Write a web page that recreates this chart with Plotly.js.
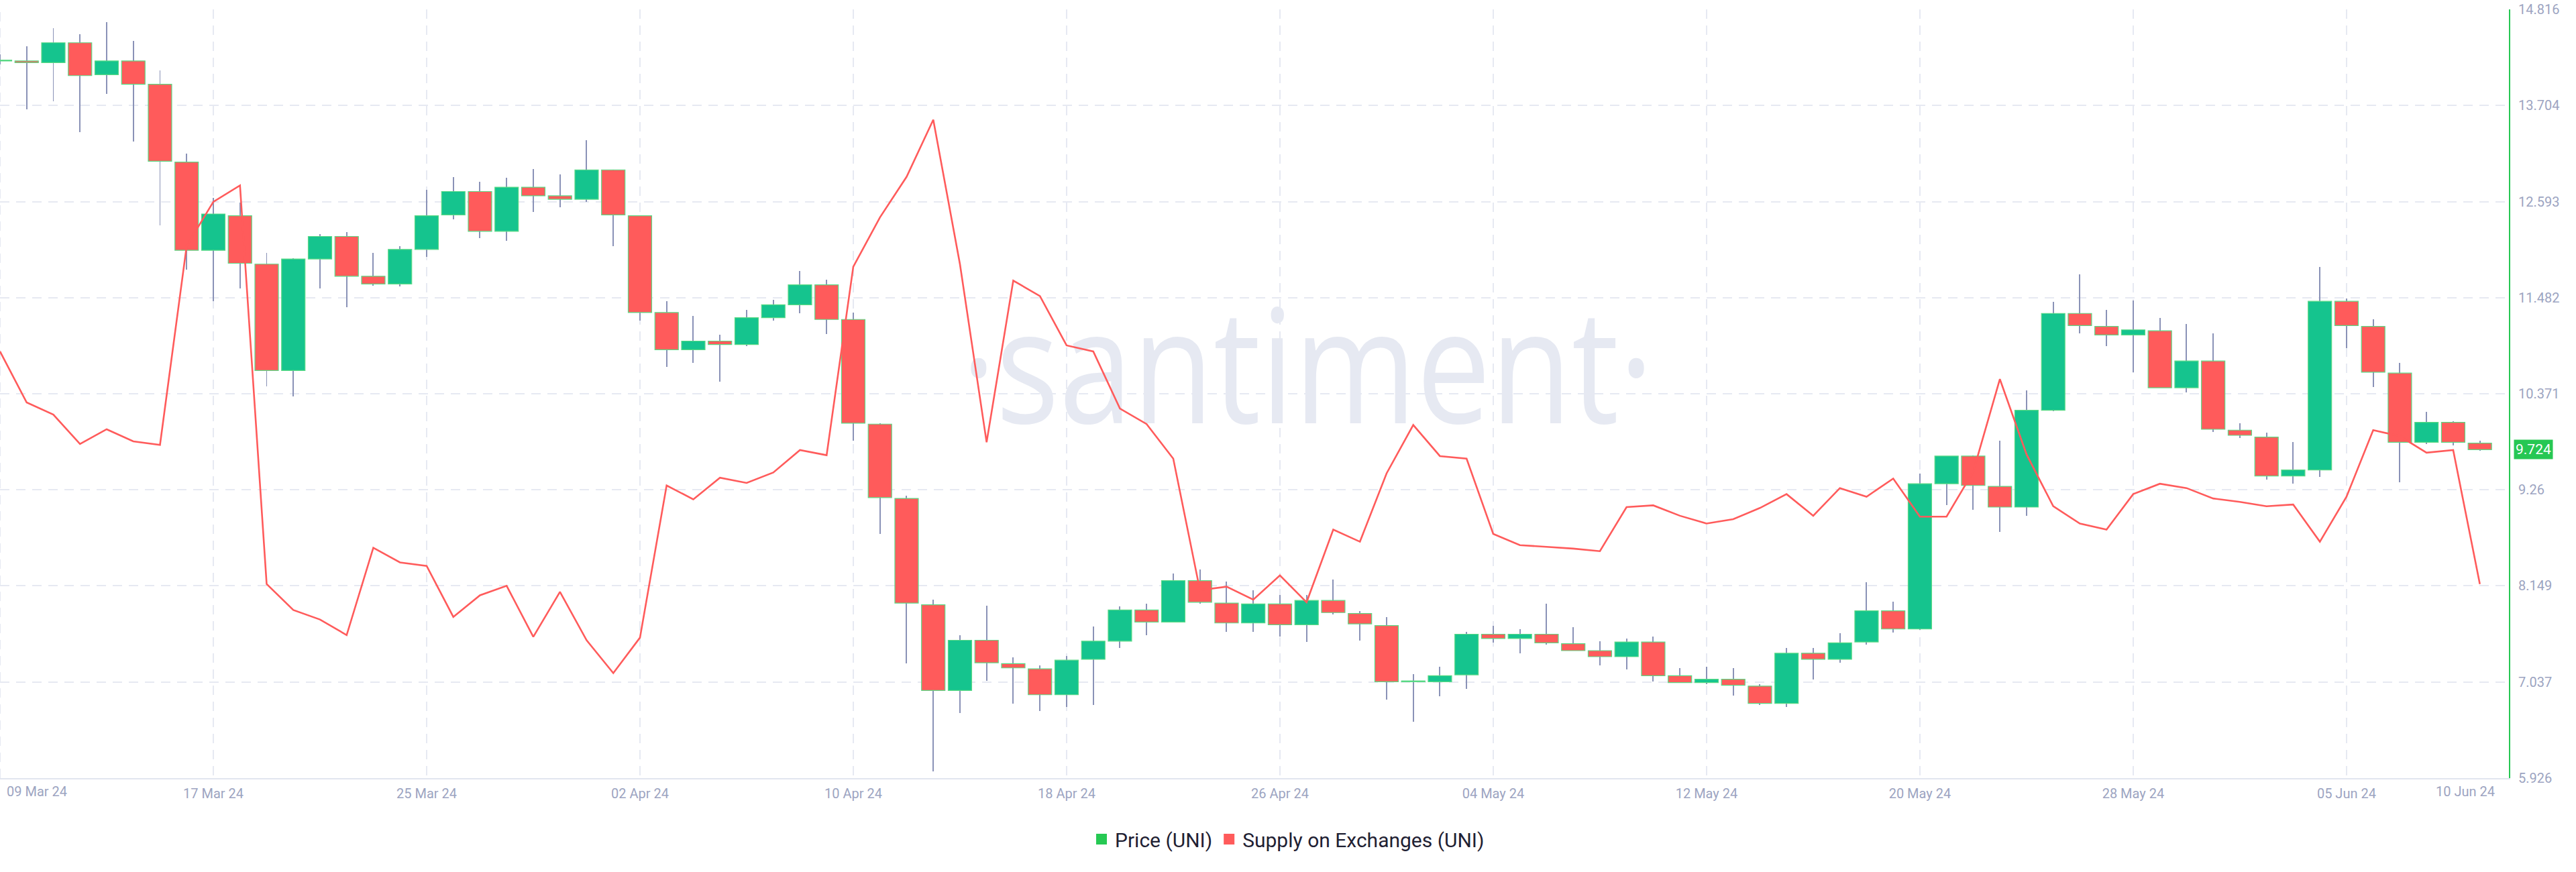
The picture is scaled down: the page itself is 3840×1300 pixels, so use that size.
<!DOCTYPE html>
<html>
<head>
<meta charset="utf-8">
<script src="https://cdn.plot.ly/plotly-3.0.1.min.js"></script>
<style>
  html, body { margin: 0; padding: 0; background: #ffffff; overflow: hidden; }
  #wrap { position: relative; width: 3840px; height: 1300px; }
  #wm { position: absolute; left: 1433px; top: 422px; font-family: "Open Sans", sans-serif; font-size: 236px;
        line-height: 236px; color: #e6e9f2; white-space: nowrap; transform: scaleX(0.835); transform-origin: left top; z-index: 0; }
  #chart { position: absolute; left: 0; top: 0; width: 3840px; height: 1300px; z-index: 1; }
</style>
</head>
<body>
<div id="wrap">
  <div id="wm">·santiment·</div>
  <div id="chart"></div>
</div>
<script>
// ---- Data (daily, 09 Mar 2024 .. 10 Jun 2024) ----
const startDate = "2024-03-09";
const priceOpen = [14.23,14.22,14.20,14.43,14.06,14.22,13.95,13.05,12.03,12.43,11.87,10.64,11.93,12.19,11.73,11.64,12.04,12.44,12.71,12.25,12.76,12.66,12.62,12.96,12.43,11.31,10.88,10.98,10.94,11.25,11.40,11.63,11.23,10.02,9.16,7.93,6.94,7.52,7.25,7.19,6.89,7.30,7.51,7.87,7.73,8.21,7.95,7.72,7.94,7.70,7.98,7.83,7.69,7.04,7.04,7.12,7.59,7.54,7.59,7.48,7.40,7.33,7.50,7.11,7.03,7.07,6.99,6.79,7.37,7.30,7.50,7.86,7.65,9.33,9.65,9.30,9.06,10.18,11.30,11.15,11.05,11.10,10.44,10.75,9.95,9.87,9.42,9.49,11.44,11.15,10.61,9.81,10.04,9.80];
const priceHigh = [14.30,14.39,14.60,14.53,14.67,14.45,14.11,13.15,12.64,12.58,12.00,11.94,12.22,12.24,12.00,12.08,12.73,12.88,12.82,12.87,12.97,12.91,13.30,12.96,12.43,11.44,11.27,11.05,11.34,11.46,11.79,11.69,11.31,10.03,9.19,7.99,7.58,7.92,7.32,7.23,7.34,7.68,7.91,7.94,8.29,8.34,8.20,8.10,8.04,8.04,8.22,7.86,7.79,7.13,7.21,7.62,7.69,7.65,7.94,7.67,7.51,7.54,7.56,7.20,7.21,7.20,7.01,7.43,7.43,7.60,8.19,7.97,9.45,9.65,9.66,9.83,10.41,11.43,11.75,11.34,11.45,11.25,11.18,11.07,10.03,9.92,9.81,11.84,11.47,11.23,10.73,10.16,10.05,9.83];
const priceLow = [14.18,13.66,13.75,13.40,13.84,13.29,12.32,11.81,11.44,11.59,10.46,10.34,11.59,11.37,11.62,11.61,11.95,12.39,12.17,12.14,12.47,12.53,12.59,12.08,11.22,10.68,10.73,10.51,10.92,11.22,11.30,11.06,9.83,8.75,7.25,6.00,6.68,7.05,6.79,6.70,6.75,6.77,7.43,7.58,7.73,7.94,7.62,7.62,7.56,7.50,7.82,7.52,6.83,6.58,6.87,6.96,7.49,7.37,7.47,7.40,7.23,7.18,7.04,7.03,7.01,6.88,6.77,6.75,7.07,7.26,7.47,7.61,7.64,9.08,9.03,8.77,8.96,10.17,11.07,10.92,10.62,10.44,10.39,9.93,9.86,9.38,9.33,9.41,10.90,10.45,9.35,9.79,9.77,9.71];
const priceClose = [14.22,14.20,14.43,14.05,14.22,13.95,13.06,12.03,12.45,11.88,10.64,11.93,12.19,11.73,11.64,12.04,12.43,12.71,12.25,12.76,12.66,12.62,12.96,12.44,11.31,10.88,10.98,10.94,11.25,11.40,11.63,11.23,10.03,9.17,7.95,6.94,7.52,7.26,7.20,6.89,7.29,7.51,7.87,7.73,8.21,7.96,7.72,7.94,7.70,7.98,7.84,7.71,7.04,7.05,7.11,7.59,7.54,7.59,7.49,7.40,7.33,7.50,7.11,7.03,7.07,7.00,6.79,7.37,7.30,7.49,7.86,7.65,9.33,9.65,9.31,9.06,10.18,11.30,11.16,11.05,11.11,10.44,10.75,9.96,9.89,9.42,9.49,11.44,11.16,10.62,9.81,10.04,9.81,9.724];
// Supply on Exchanges (UNI): drawn on its own hidden axis; values read as chart-relative levels
const supplyOnExchanges = [10.86,10.27,10.13,9.79,9.96,9.82,9.78,12.08,12.59,12.78,8.17,7.87,7.76,7.58,8.59,8.42,8.38,7.79,8.04,8.15,7.56,8.08,7.52,7.14,7.55,9.31,9.15,9.40,9.34,9.46,9.72,9.66,11.84,12.41,12.88,13.54,11.87,9.81,11.68,11.50,10.93,10.86,10.20,10.02,9.62,8.10,8.14,7.99,8.27,7.96,8.80,8.66,9.45,10.01,9.65,9.62,8.75,8.62,8.60,8.58,8.55,9.06,9.08,8.96,8.87,8.92,9.05,9.21,8.96,9.28,9.18,9.39,8.95,8.95,9.47,10.54,9.67,9.07,8.87,8.80,9.21,9.33,9.28,9.16,9.12,9.07,9.09,8.66,9.18,9.95,9.88,9.69,9.72,8.17];
const priceTickVals = [5.926,7.037,8.149,9.26,10.371,11.482,12.593,13.704,14.816];
const priceTickText = ["5.926","7.037","8.149","9.26","10.371","11.482","12.593","13.704","14.816"];
const dateTickVals = ["2024-03-17","2024-03-25","2024-04-02","2024-04-10","2024-04-18","2024-04-26","2024-05-04","2024-05-12","2024-05-20","2024-05-28","2024-06-05"];
const dateTickText = ["17 Mar 24","25 Mar 24","02 Apr 24","10 Apr 24","18 Apr 24","26 Apr 24","04 May 24","12 May 24","20 May 24","28 May 24","05 Jun 24"];
const firstDateLabel = "09 Mar 24";
const lastDateLabel = "10 Jun 24";
const seriesNames = ["Price (UNI)", "Supply on Exchanges (UNI)"];

// ---- Build traces ----
const DAY = 86400000;
const dates = priceOpen.map((_, i) => {
  const d = new Date(Date.parse(startDate + "T00:00:00Z") + i * DAY);
  return d.toISOString().slice(0, 10);
});
const upIdx = [], dnIdx = [];
priceOpen.forEach((o, i) => (priceClose[i] >= o ? upIdx : dnIdx).push(i));

const GREEN = "#15c48e", RED = "#ff5b5b", WICK = "#8a92b7", EDGE = "#5ad985";
const LEG_GREEN = "#26c953";

const wicks = {
  type: "bar", x: dates, base: priceLow, y: priceHigh.map((h, i) => h - priceLow[i]),
  width: 0.05 * DAY, marker: { color: WICK, line: { width: 0 } },
  showlegend: false, hoverinfo: "skip"
};
const upBodies = {
  type: "bar", x: upIdx.map(i => dates[i]),
  base: upIdx.map(i => priceOpen[i]), y: upIdx.map(i => Math.max(priceClose[i] - priceOpen[i], 0.004)),
  width: 0.88 * DAY, marker: { color: GREEN, line: { color: EDGE, width: 1.2 } },
  showlegend: false, hoverinfo: "skip"
};
const dnBodies = {
  type: "bar", x: dnIdx.map(i => dates[i]),
  base: dnIdx.map(i => priceClose[i]), y: dnIdx.map(i => Math.max(priceOpen[i] - priceClose[i], 0.004)),
  width: 0.88 * DAY, marker: { color: RED, line: { color: EDGE, width: 1.2 } },
  showlegend: false, hoverinfo: "skip"
};
const supplyLine = {
  type: "scatter", mode: "lines", x: dates, y: supplyOnExchanges, yaxis: "y2",
  line: { color: RED, width: 2.6 }, showlegend: false, hoverinfo: "skip"
};
const priceLegend = {
  type: "bar", name: seriesNames[0], x: [null], y: [null],
  marker: { color: LEG_GREEN, line: { color: LEG_GREEN, width: 4 } }, showlegend: true, hoverinfo: "skip"
};
const supplyLegend = {
  type: "bar", name: seriesNames[1], x: [null], y: [null],
  marker: { color: RED, line: { color: RED, width: 4 } }, showlegend: true, hoverinfo: "skip"
};

const yRange = [priceTickVals[0], priceTickVals[priceTickVals.length - 1]];
const xStart = Date.parse(startDate + "T00:00:00Z");
const xRange = [new Date(xStart).toISOString(), new Date(xStart + 94.09 * DAY).toISOString()];

const tickFont = { family: "Roboto, sans-serif", size: 20, color: "#9ca4c1" };

const layout = {
  width: 3840, height: 1300,
  margin: { l: 0, r: 100, t: 14, b: 140, pad: 0 },
  paper_bgcolor: "rgba(0,0,0,0)", plot_bgcolor: "rgba(0,0,0,0)",
  barmode: "overlay", bargap: 0,
  hovermode: false,
  xaxis: {
    type: "date", range: xRange, tickvals: dateTickVals, ticktext: dateTickText,
    tickfont: tickFont, ticks: "", showgrid: true, gridcolor: "#e6e9f2", gridwidth: 2, griddash: "14px,10px",
    showline: true, linecolor: "#e1e5ef", linewidth: 2, zeroline: false, ticklabelstandoff: 4
  },
  yaxis: {
    side: "right", range: yRange, tickvals: priceTickVals, ticktext: priceTickText,
    tickfont: tickFont, ticks: "", showgrid: true, gridcolor: "#e6e9f2", gridwidth: 2, griddash: "14px,10px",
    showline: true, linecolor: "#26c753", linewidth: 2, zeroline: false, ticklabelstandoff: 8
  },
  yaxis2: { overlaying: "y", range: yRange, visible: false },
  legend: {
    orientation: "h", xref: "container", yref: "container", x: 0.5, xanchor: "center", y: 0.0377, yanchor: "middle",
    font: { family: "Roboto, sans-serif", size: 30, color: "#1f2133" }, traceorder: "normal", itemclick: false
  },
  shapes: [
    { type: "line", xref: "x", yref: "paper", x0: dates[0], x1: dates[0], y0: 0, y1: 1,
      line: { color: "#e6e9f2", width: 2, dash: "14px,10px" }, layer: "below" }
  ],
  annotations: [
    { xref: "paper", x: 1, xshift: 7, xanchor: "left", yref: "y", y: priceClose[priceClose.length - 1], yanchor: "middle",
      text: priceClose[priceClose.length - 1].toFixed(3), showarrow: false, bgcolor: "#26c753", borderpad: 2,
      font: { family: "Roboto, sans-serif", size: 21, color: "#ffffff" } },
    { xref: "x", x: dates[dates.length - 1], xshift: -22, yref: "paper", y: 0, yshift: -6, yanchor: "top", xanchor: "center",
      text: lastDateLabel, showarrow: false, font: tickFont },
    { xref: "paper", x: 0, xshift: 8, yref: "paper", y: 0, yshift: -6, yanchor: "top", xanchor: "left",
      text: firstDateLabel, showarrow: false, font: tickFont }
  ]
};

Plotly.newPlot("chart", [wicks, upBodies, dnBodies, supplyLine, priceLegend, supplyLegend], layout, { staticPlot: true, displayModeBar: false });
</script>
</body>
</html>
